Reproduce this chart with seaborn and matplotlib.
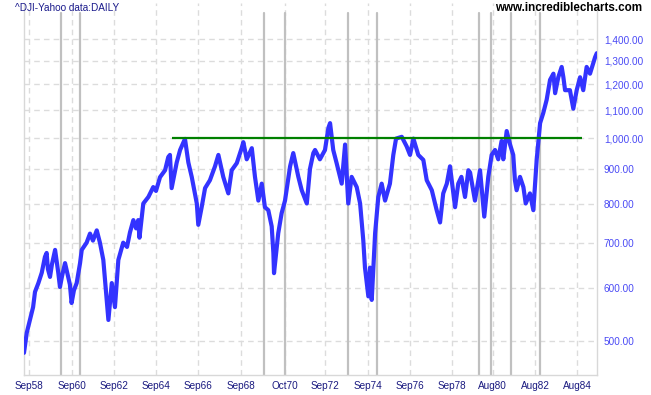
import matplotlib
matplotlib.use("Agg")
import matplotlib.pyplot as plt
import seaborn as sns
import pandas as pd
import numpy as np
from matplotlib.ticker import FixedLocator, NullLocator

# ---- data (decimal year, DJI close) ----
years = [1958.42, 1958.55, 1958.70, 1958.85, 1958.94, 1959.10, 1959.26, 1959.41, 1959.49, 1959.55,
         1959.65, 1959.74, 1959.89, 1960.04, 1960.12, 1960.22, 1960.36, 1960.50, 1960.59, 1960.67,
         1960.78, 1960.91, 1961.07, 1961.15, 1961.38, 1961.54, 1961.68, 1961.86, 1962.01, 1962.17,
         1962.25, 1962.41, 1962.57, 1962.72, 1962.88, 1963.11, 1963.29, 1963.43, 1963.59, 1963.72,
         1963.82, 1963.88, 1964.06, 1964.30, 1964.53, 1964.66, 1964.85, 1965.09, 1965.24, 1965.32,
         1965.40, 1965.64, 1965.80, 1965.95, 1966.03, 1966.19, 1966.35, 1966.59, 1966.66, 1966.82,
         1966.98, 1967.21, 1967.45, 1967.61, 1967.84, 1968.08, 1968.24, 1968.48, 1968.71, 1968.79,
         1968.95, 1969.19, 1969.34, 1969.50, 1969.66, 1969.81, 1969.97, 1970.13, 1970.21, 1970.24,
         1970.44, 1970.60, 1970.76, 1971.00, 1971.15, 1971.39, 1971.55, 1971.79, 1971.94, 1972.10,
         1972.18, 1972.41, 1972.65, 1972.81, 1972.89, 1973.04, 1973.20, 1973.36, 1973.44, 1973.60,
         1973.75, 1973.91, 1974.15, 1974.31, 1974.46, 1974.54, 1974.70, 1974.78, 1974.86, 1975.02,
         1975.17, 1975.33, 1975.49, 1975.72, 1975.88, 1976.01, 1976.28, 1976.51, 1976.67, 1976.83,
         1977.06, 1977.30, 1977.46, 1977.70, 1977.93, 1978.09, 1978.24, 1978.41, 1978.56, 1978.80,
         1978.95, 1979.10, 1979.27, 1979.43, 1979.51, 1979.74, 1979.98, 1980.18, 1980.37, 1980.53,
         1980.69, 1980.84, 1981.00, 1981.08, 1981.24, 1981.40, 1981.55, 1981.63, 1981.71, 1981.87,
         1982.03, 1982.14, 1982.34, 1982.50, 1982.66, 1982.82, 1982.97, 1983.13, 1983.29, 1983.45,
         1983.53, 1983.68, 1983.84, 1983.92, 1984.00, 1984.23, 1984.39, 1984.55, 1984.71, 1984.86,
         1985.02, 1985.18, 1985.42, 1985.50]
close = [481, 515, 538, 562, 592, 610, 632, 667, 676, 640,
         623, 650, 683, 632, 602, 625, 653, 625, 607, 570,
         595, 610, 653, 683, 700, 722, 705, 730, 700, 660,
         617, 538, 610, 562, 660, 700, 690, 725, 756, 735,
         756, 712, 800, 818, 846, 835, 875, 896, 937, 944,
         843, 920, 960, 984, 997, 920, 876, 800, 744, 790,
         843, 866, 908, 944, 876, 828, 896, 918, 966, 986,
         930, 966, 876, 808, 856, 790, 782, 740, 676, 631,
         723, 774, 808, 908, 950, 876, 837, 800, 900, 950,
         960, 930, 960, 1035, 1052, 960, 918, 876, 856, 978,
         800, 876, 846, 800, 706, 643, 583, 643, 576, 723,
         818, 856, 808, 856, 944, 998, 1004, 972, 944, 998,
         944, 928, 866, 837, 782, 750, 828, 856, 908, 790,
         856, 876, 818, 896, 889, 808, 896, 765, 876, 944,
         960, 930, 990, 930, 1024, 978, 944, 866, 837, 876,
         846, 800, 828, 782, 930, 1052, 1089, 1139, 1219, 1245,
         1165, 1230, 1274, 1230, 1177, 1177, 1105, 1177, 1230, 1177,
         1274, 1245, 1317, 1335]

# recession markers (grey vertical lines)
recession_years = [1960.17, 1961.07, 1969.77, 1970.76, 1973.72, 1975.09,
                   1979.93, 1980.49, 1981.44, 1982.82]

# resistance line
resist_level = 1000
resist_start, resist_end = 1965.42, 1984.79

# axis ticks
xtick_years = [1958, 1960, 1962, 1964, 1966, 1968, 1970, 1972, 1974, 1976, 1978, 1980, 1982, 1984]
xtick_months = [9, 9, 9, 9, 9, 9, 10, 9, 9, 9, 9, 8, 8, 8]
xtick_labels = ["Sep58", "Sep60", "Sep62", "Sep64", "Sep66", "Sep68", "Oct70", "Sep72",
                "Sep74", "Sep76", "Sep78", "Aug80", "Aug82", "Aug84"]
ytick_values = [500, 600, 700, 800, 900, 1000, 1100, 1200, 1300, 1400]

df = pd.DataFrame({"year": years, "close": close})

sns.set_style("white")
plt.rcParams["font.family"] = ["Liberation Sans", "DejaVu Sans"]

fig = plt.figure(figsize=(6.51, 3.95), dpi=100)
ax = fig.add_axes([24 / 651, 20 / 395, 573 / 651, 372 / 395])

ax.set_yscale("log")
ax.set_xlim(1958.42, 1985.51)
ax.set_ylim(446, 1584)

# grid
grid_kw = dict(color="#DCDCDC", lw=1.0, ls=(0, (4, 3)), zorder=0)
xticks = [y + (m - 1) / 12 for y, m in zip(xtick_years, xtick_months)]
for xv in xticks:
    ax.axvline(xv, **grid_kw)
for yv in ytick_values:
    ax.axhline(yv, **grid_kw)

# recession lines
for rv in recession_years:
    ax.axvline(rv, ymin=0, ymax=0.973, color="#C0C0C0", lw=1.6, zorder=1)

sns.lineplot(data=df, x="year", y="close", ax=ax, color="#3333FF", lw=3.0,
             estimator=None, sort=False, zorder=3)

ax.plot([resist_start, resist_end], [resist_level, resist_level], color="#008000",
        lw=1.6, zorder=4, solid_capstyle="butt")

ax.xaxis.set_major_locator(FixedLocator(xticks))
ax.set_xticklabels(xtick_labels)
ax.xaxis.set_minor_locator(NullLocator())
ax.yaxis.set_major_locator(FixedLocator(ytick_values))
ax.yaxis.set_minor_locator(NullLocator())
ax.set_yticklabels([f"{v:,.2f}" for v in ytick_values])
ax.yaxis.tick_right()
ax.tick_params(axis="x", length=0, pad=4, labelsize=7.2, labelcolor="#1A1A80")
ax.tick_params(axis="y", length=0, pad=5, labelsize=7.2, labelcolor="#4A4AF5")
ax.set_xlabel("")
ax.set_ylabel("")

for s in ["left", "bottom", "right"]:
    ax.spines[s].set_color("#D8D8D8")
    ax.spines[s].set_linewidth(1.0)
ax.spines["top"].set_visible(False)

fig.text(15 / 651, 1 - 8 / 395, "^DJI-Yahoo data:DAILY", color="#1A1A8C",
         fontsize=7.2, ha="left", va="center")
fig.text(642 / 651, 1 - 8 / 395, "www.incrediblecharts.com", color="black",
         fontsize=8.4, fontweight="bold", ha="right", va="center")

fig.savefig("out.png", dpi=100)
